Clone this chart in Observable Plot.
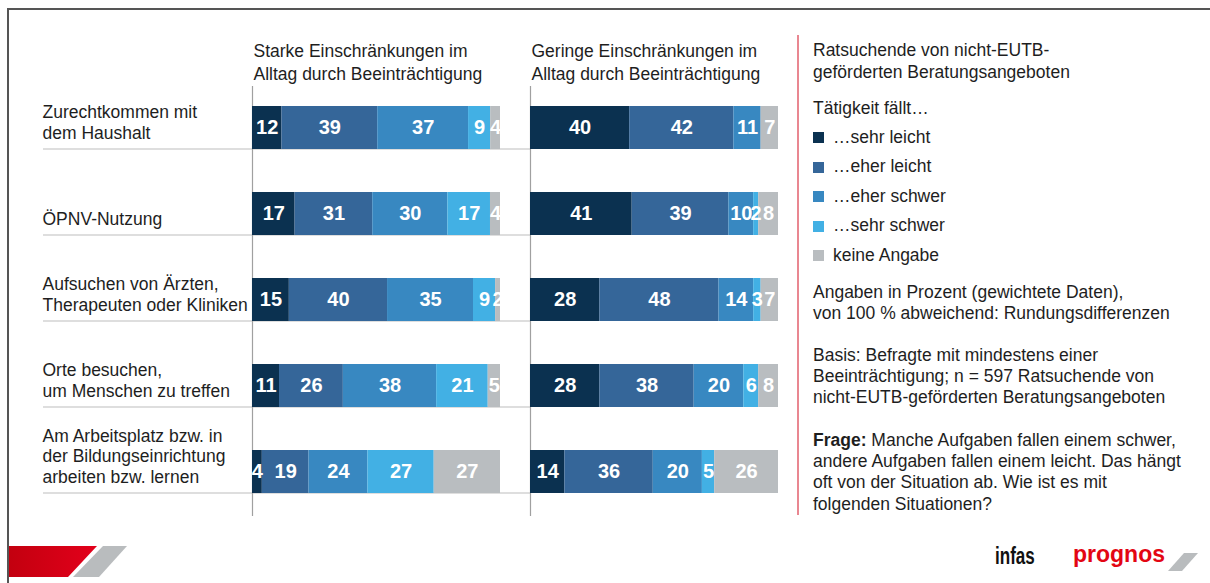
<!DOCTYPE html>
<html><head><meta charset="utf-8">
<script src="https://cdn.jsdelivr.net/npm/d3@7"></script>
<script src="https://cdn.jsdelivr.net/npm/@observablehq/plot@0.6"></script>
<style>
html,body{margin:0;padding:0;background:#fff;}
#wrap{position:relative;width:1210px;height:583px;overflow:hidden;font-family:"Liberation Sans",Arial,sans-serif;color:#1e1e1e;}
#chart{position:absolute;left:0;top:0;}
.t{position:absolute;font-size:17.5px;line-height:21.4px;white-space:nowrap;}
.leg{position:absolute;left:813px;font-size:17.5px;line-height:21.4px;white-space:nowrap;display:flex;align-items:center;}
.sw{display:inline-block;width:11px;height:11px;margin-right:9px;margin-top:1px;}
</style></head><body><div id="wrap">
<div style="position:absolute;left:7px;top:8px;width:1203px;height:2px;background:#555;"></div>
<div style="position:absolute;left:7px;top:8px;width:2px;height:575px;background:#555;"></div>
<div id="chart"></div>
<div style="position:absolute;left:797px;top:35px;width:2px;height:480px;background:#e98791;"></div>
<div class="t" style="left:813px;top:39px;line-height:22px;">Ratsuchende von nicht-EUTB-<br>geförderten Beratungsangeboten</div>
<div class="t" style="left:813px;top:97.5px;">Tätigkeit fällt…</div>
<div id="legend"></div>
<div class="t" style="left:813px;top:281.5px;">Angaben in Prozent (gewichtete Daten),<br>von 100 % abweichend: Rundungsdifferenzen</div>
<div class="t" style="left:813px;top:344.5px;">Basis: Befragte mit mindestens einer<br>Beeinträchtigung; n = 597 Ratsuchende von<br>nicht-EUTB-geförderten Beratungsangeboten</div>
<div class="t" style="left:813px;top:429.5px;"><b>Frage:</b> Manche Aufgaben fallen einem schwer,<br>andere Aufgaben fallen einem leicht. Das hängt<br>oft von der Situation ab. Wie ist es mit<br>folgenden Situationen?</div>
<svg style="position:absolute;left:0;top:540px;" width="140" height="43">
<defs><linearGradient id="rg" x1="0" x2="1" y1="0" y2="0"><stop offset="0" stop-color="#c3000f"/><stop offset="1" stop-color="#e3001b"/></linearGradient></defs>
<polygon points="9,6 97,6 68,37 9,37" fill="url(#rg)"/>
<polygon points="103,6 127,6 99,37 73,37" fill="#b9bcbe"/>
</svg>
<div style="position:absolute;left:995px;top:543px;font-family:'Liberation Sans',Arial,sans-serif;font-weight:bold;font-size:23px;color:#111;transform:scaleX(0.74);transform-origin:0 0;">infas</div>
<div style="position:absolute;left:1073px;top:541px;font-family:'Liberation Sans',Arial,sans-serif;font-weight:bold;font-size:23px;color:#e30613;">prognos</div>
<svg style="position:absolute;left:1160px;top:550px;" width="45" height="25">
<polygon points="24,3 38,3 22,21 8,21" fill="#b9bcbe"/>
</svg>
</div>
<script>
const rowLabels = [
  "Zurechtkommen mit\ndem Haushalt",
  "ÖPNV-Nutzung",
  "Aufsuchen von Ärzten,\nTherapeuten oder Kliniken",
  "Orte besuchen,\num Menschen zu treffen",
  "Am Arbeitsplatz bzw. in\nder Bildungseinrichtung\narbeiten bzw. lernen"
];
const panels = [
  "Starke Einschränkungen im\nAlltag durch Beeinträchtigung",
  "Geringe Einschränkungen im\nAlltag durch Beeinträchtigung"
];
const categories = ["…sehr leicht", "…eher leicht", "…eher schwer", "…sehr schwer", "keine Angabe"];
const colors = ["#0b3150", "#356699", "#3888c1", "#42b0e4", "#b9bdc0"];
// values per row, in category order
const starkeValues = [
  [12, 39, 37, 9, 4],
  [17, 31, 30, 17, 4],
  [15, 40, 35, 9, 2],
  [11, 26, 38, 21, 5],
  [4, 19, 24, 27, 27]
];
const geringeValues = [
  [40, 42, 11, 0, 7],
  [41, 39, 10, 2, 8],
  [28, 48, 14, 3, 7],
  [28, 38, 20, 6, 8],
  [14, 36, 20, 5, 26]
];

const data = [];
[starkeValues, geringeValues].forEach((vals, p) => {
  vals.forEach((rowVals, r) => {
    rowVals.forEach((v, c) => data.push({panel: panels[p], row: rowLabels[r], cat: categories[c], value: v}));
  });
});
const sepData = rowLabels.map(r => ({row: r, panel: panels[0]}));

const chart = Plot.plot({
  width: 790, height: 583,
  marginLeft: 252, marginRight: 12, marginTop: 86, marginBottom: 67,
  style: {fontFamily: '"Liberation Sans", Arial, sans-serif', fontSize: "17.5px", color: "#1e1e1e", background: "transparent"},
  fx: {domain: panels, paddingInner: 30 / 278, paddingOuter: 0, label: null},
  y: {domain: rowLabels, paddingInner: 0.5, paddingOuter: 0.25, align: 0.465, label: null},
  x: {domain: [0, 1], axis: null},
  color: {domain: categories, range: colors},
  marks: [
    Plot.ruleY(sepData, {y: "row", fx: "panel", dy: 21, insetLeft: -209, insetRight: -30, stroke: "#d3d3d3", strokeWidth: 1.5}),
    Plot.ruleX(panels, {x: () => 0, fx: d => d, stroke: "#a0a0a0", strokeWidth: 1.2}),
    Plot.barX(data, Plot.stackX({x: "value", y: "row", fx: "panel", fill: "cat", offset: "normalize"})),
    Plot.text(data.filter(d => d.value > 0), Plot.stackX({x: "value", y: "row", fx: "panel", z: "cat", offset: "normalize",
      text: d => String(d.value), fill: "white", fontWeight: "bold", fontSize: 20, clip: true})),
    Plot.axisY({anchor: "left", tickSize: 0, tickPadding: 0, textAnchor: "start", dx: -210, lineAnchor: "bottom", dy: 11,
      lineHeight: 1.18, fontSize: 17.5, fill: "#1e1e1e", label: null}),
    Plot.axisFx({anchor: "top", tickSize: 0, tickPadding: 7, textAnchor: "start", dx: -123, lineAnchor: "bottom",
      lineHeight: 1.28, fontSize: 17.5, fill: "#1e1e1e", label: null})
  ]
});
document.getElementById("chart").appendChild(chart);

const legend = document.getElementById("legend");
categories.forEach((c, i) => {
  const d = document.createElement("div");
  d.className = "leg";
  d.style.top = (126.5 + i * 29.5) + "px";
  d.innerHTML = `<span class="sw" style="background:${colors[i]}"></span>${c}`;
  legend.appendChild(d);
});
</script>
</body></html>
